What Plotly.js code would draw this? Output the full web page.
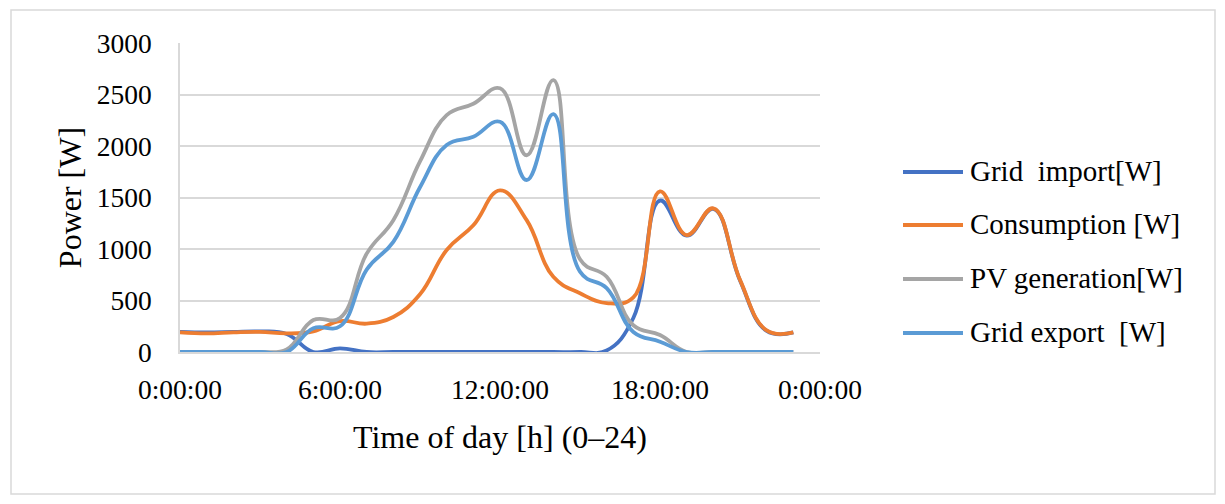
<!DOCTYPE html>
<html>
<head>
<meta charset="utf-8">
<script src="https://cdn.plot.ly/plotly-3.0.1.min.js"></script>
<style>
  html, body { margin: 0; padding: 0; background: #ffffff; }
  #chart { width: 1225px; height: 504px; }
</style>
</head>
<body>
<div id="chart"></div>
<script>
// Hour of day for each reading (one reading per hour)
const hours = [0, 1, 2, 3, 4, 5, 6, 7, 8, 9, 10, 11, 12, 13, 14, 15, 16, 17, 18, 19, 20, 21, 22, 23];

// Power readings in W
const gridImport  = [195, 190, 195, 200, 175, 0, 35, 0, 0, 0, 0, 0, 0, 0, 0, 0, 15, 330, 1470, 1130, 1390, 695, 205, 190];
const consumption = [190, 180, 190, 195, 180, 200, 300, 275, 340, 560, 990, 1230, 1570, 1280, 730, 570, 475, 530, 1560, 1135, 1395, 700, 210, 190];
const pvGeneration = [0, 0, 0, 0, 25, 310, 330, 955, 1280, 1850, 2300, 2410, 2560, 1910, 2640, 900, 730, 260, 165, 0, 0, 0, 0, 0];
const gridExport  = [0, 0, 0, 0, 0, 230, 250, 800, 1070, 1600, 2010, 2090, 2235, 1670, 2310, 780, 620, 195, 100, 0, 0, 0, 0, 0];

// Series names and axis tick labels
const seriesNames = ['Grid  import[W]', 'Consumption [W]', 'PV generation[W]', 'Grid export  [W]'];
const timeTickValues = [0, 6, 12, 18, 24];
const timeTickLabels = ['0:00:00', '6:00:00', '12:00:00', '18:00:00', '0:00:00'];
const powerTickValues = [0, 500, 1000, 1500, 2000, 2500, 3000];

const seriesValues = [gridImport, consumption, pvGeneration, gridExport];
const seriesColors = ['#4472C4', '#ED7D31', '#A5A5A5', '#5B9BD5'];

const FONT = 'Liberation Serif, Times New Roman, serif';

const traces = seriesValues.map((vals, i) => ({
  type: 'scatter',
  mode: 'lines',
  x: hours,
  y: vals,
  name: seriesNames[i],
  line: { color: seriesColors[i], width: 3.8, shape: 'spline', smoothing: 1.2 },
  hoverinfo: 'x+y+name',
  showlegend: false
}));

// Plot area geometry in pixels, used to place the outer frame and legend
const W = 1225, H = 504;
const M = { l: 180, r: 405, t: 43, b: 152 };
const plotW = W - M.l - M.r;
const plotH = H - M.t - M.b;
const px = x => (x - M.l) / plotW;
const py = y => (H - M.b - y) / plotH;

const shapes = [
  // outer chart frame
  {
    type: 'rect', xref: 'paper', yref: 'paper',
    x0: px(11), x1: px(1215), y0: py(494), y1: py(10),
    line: { color: '#d9d9d9', width: 1.5 }, fillcolor: 'rgba(0,0,0,0)', layer: 'below'
  }
];
const annotations = [];

// Legend on the right: a long line sample followed by the series name
const legendRows = [172, 225, 279, 333];
seriesNames.forEach((name, i) => {
  shapes.push({
    type: 'line', xref: 'paper', yref: 'paper',
    x0: px(903), x1: px(963), y0: py(legendRows[i]), y1: py(legendRows[i]),
    line: { color: seriesColors[i], width: 3.8 }
  });
  annotations.push({
    xref: 'paper', yref: 'paper', x: px(968), y: py(legendRows[i] - 1),
    xanchor: 'left', yanchor: 'middle', showarrow: false,
    text: name, font: { family: FONT, size: 29, color: '#000000' }
  });
});

const layout = {
  width: W, height: H,
  margin: M,
  paper_bgcolor: '#ffffff',
  plot_bgcolor: '#ffffff',
  font: { family: FONT, color: '#000000' },
  showlegend: false,
  xaxis: {
    range: [0, 24],
    tickmode: 'array', tickvals: timeTickValues, ticktext: timeTickLabels,
    showgrid: false, zeroline: false,
    showline: true, linecolor: '#d9d9d9', linewidth: 1.5,
    ticks: '', ticklabelstandoff: 12,
    tickfont: { family: FONT, size: 27.5, color: '#000000' },
    title: { text: 'Time of day [h] (0–24)', font: { family: FONT, size: 32, color: '#000000' }, standoff: 22 },
    fixedrange: true
  },
  yaxis: {
    range: [0, 3000],
    tickmode: 'array', tickvals: powerTickValues,
    showgrid: true, gridcolor: '#d9d9d9', gridwidth: 1.5,
    zeroline: false,
    showline: true, linecolor: '#d9d9d9', linewidth: 1.5,
    ticks: '', ticklabelstandoff: 21,
    tickfont: { family: FONT, size: 27.5, color: '#000000' },
    title: { text: 'Power [W]', font: { family: FONT, size: 32, color: '#000000' }, standoff: 6 },
    fixedrange: true
  },
  shapes: shapes,
  annotations: annotations
};

Plotly.newPlot('chart', traces, layout, { displayModeBar: false, staticPlot: false });
</script>
</body>
</html>
